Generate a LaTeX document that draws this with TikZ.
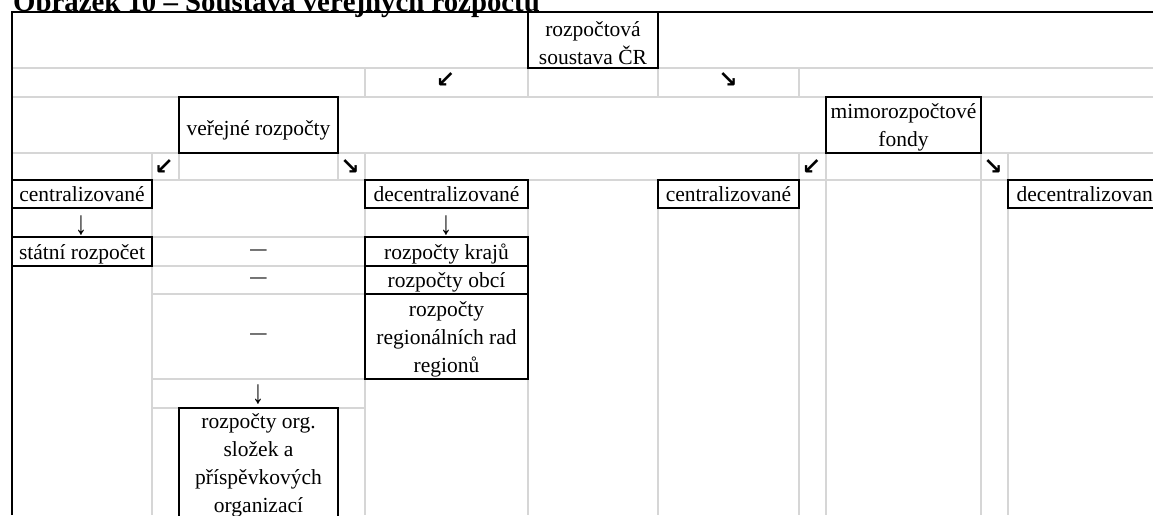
\documentclass[tikz,border=0pt]{standalone}
\usepackage{fontspec}
\setmainfont{Liberation Serif}
\newfontfamily\arrowfont{DejaVu Sans}
\definecolor{gridgray}{RGB}{214,214,214}

% text of a cell: last baseline placed #1 pt below the cell centre
\newcommand\celltext[2]{\raisebox{-#1pt}[0pt][0pt]{\begin{tabular}[b]{@{}c@{}}#2\end{tabular}}}
\newcommand\cellfont{\fontsize{21.5}{28}\selectfont}
\newcommand\downsign{\scalebox{1.15}[1.55]{↓}}
\newcommand\dashsign{\scalebox{1.5}[1]{–}}

\tikzset{
  cellbox/.style={draw=black, line width=2pt, inner sep=0pt, outer sep=0pt,
                  anchor=north west, font=\cellfont},
  gridline/.style={draw=gridgray, line width=1.4pt},
  frameline/.style={draw=black, line width=2pt, line join=miter},
  sym/.style={inner sep=0pt, outer sep=0pt, font=\cellfont},
  diag/.style={inner sep=0pt, outer sep=0pt, font=\arrowfont\bfseries\fontsize{23}{26}\selectfont},
}

\begin{document}
\begin{tikzpicture}[x=1pt,y=-1pt]
\useasboundingbox (0,0) rectangle (1153,515);
\clip (0,0) rectangle (1153,515);

% heading
\node[anchor=base west, inner sep=0pt, font=\fontsize{28.8}{34}\selectfont\bfseries] (title) at (13,11)
  {Obrázek 10 – Soustava veřejných rozpočtů};

% sheet grid
\draw[gridline] (12,68) -- (1153,68);
\draw[gridline] (12,97) -- (1153,97);
\draw[gridline] (12,153) -- (1153,153);
\draw[gridline] (12,180) -- (1153,180);
\foreach \x in {365,528,658,799} \draw[gridline] (\x,68) -- (\x,97);
\foreach \x in {152,179,338,365,799,826,981,1008} \draw[gridline] (\x,153) -- (\x,180);
\foreach \x in {152,365,528,658} \draw[gridline] (\x,208) -- (\x,515);
\foreach \x in {799,826,981,1008} \draw[gridline] (\x,180) -- (\x,515);
\foreach \y in {237,266,294,379,408} \draw[gridline] (152,\y) -- (365,\y);

% outer frame
\draw[frameline] (12,515) -- (12,12) -- (1153,12);

% boxes
\node[cellbox, minimum width=130pt, minimum height=56pt] (rs) at (528,12)
  {\celltext{24}{rozpočtová\\soustava ČR}};
\node[cellbox, minimum width=159pt, minimum height=56pt] (vr) at (179,97)
  {\celltext{10.5}{veřejné rozpočty}};
\node[cellbox, minimum width=155pt, minimum height=56pt] (mf) at (826,97)
  {\celltext{21}{mimorozpočtové\\fondy}};
\node[cellbox, minimum width=140pt, minimum height=28pt] (c1) at (12,180)
  {\celltext{7.5}{centralizované}};
\node[cellbox, minimum width=163pt, minimum height=28pt] (d1) at (365,180)
  {\celltext{7.5}{decentralizované}};
\node[cellbox, minimum width=141pt, minimum height=28pt] (c2) at (658,180)
  {\celltext{7.5}{centralizované}};
\node[cellbox, minimum width=163pt, minimum height=28pt] (d2) at (1008,180)
  {\celltext{7.5}{decentralizované}};
\node[cellbox, minimum width=140pt, minimum height=29pt] (sr) at (12,237)
  {\celltext{7.5}{státní rozpočet}};
\node[cellbox, minimum width=163pt, minimum height=29pt] (rk) at (365,237)
  {\celltext{7.5}{rozpočty krajů}};
\node[cellbox, minimum width=163pt, minimum height=28pt] (ro) at (365,266)
  {\celltext{7.5}{rozpočty obcí}};
\node[cellbox, minimum width=163pt, minimum height=85pt] (rr) at (365,294)
  {\celltext{35.5}{rozpočty\\regionálních rad\\regionů}};
\node[cellbox, minimum width=159pt, minimum height=120pt] (ros) at (179,408)
  {\celltext{44}{rozpočty org.\\složek a\\příspěvkových\\organizací}};

% arrow signs
\node[diag] (a1) at (445.5,80.5) {↙};
\node[diag] (a2) at (728,80.5) {↘};
\node[diag] (a3) at (164,167) {↙};
\node[diag] (a4) at (350,167) {↘};
\node[diag] (a5) at (811.5,167) {↙};
\node[diag] (a6) at (993,167) {↘};
\node[sym] (v1) at (81,226) {\downsign};
\node[sym] (v2) at (446,226) {\downsign};
\node[sym] (v3) at (258,395) {\downsign};

% dashes in the middle column
\node[sym] (m1) at (258.5,252.5) {\dashsign};
\node[sym] (m2) at (258.5,281) {\dashsign};
\node[sym] (m3) at (258.5,337) {\dashsign};
\end{tikzpicture}
\end{document}
